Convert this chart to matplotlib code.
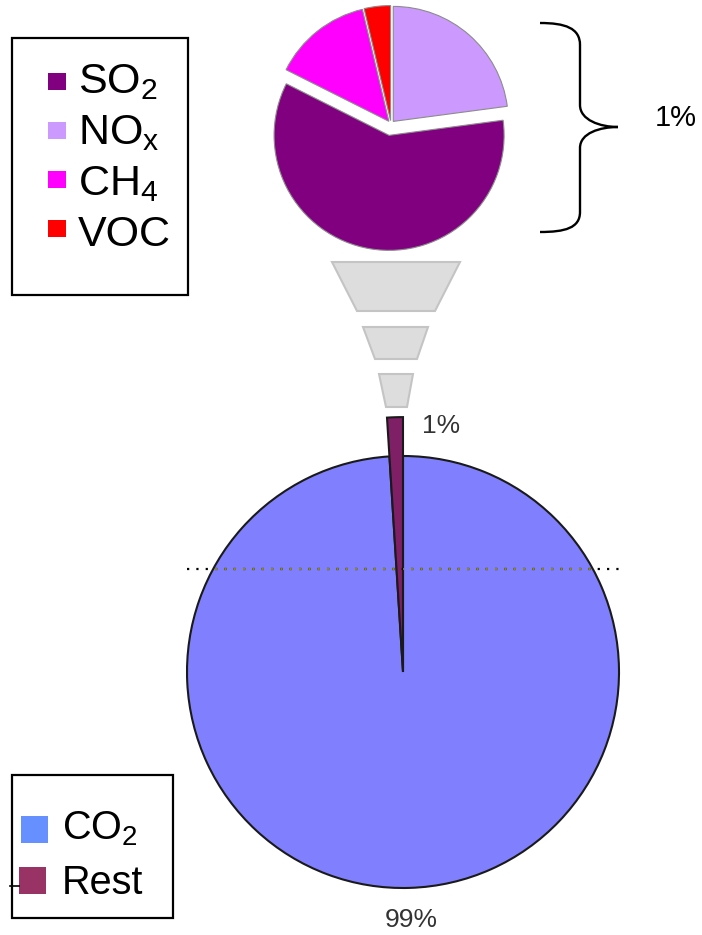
import matplotlib
matplotlib.use("Agg")
import matplotlib.pyplot as plt
from matplotlib.patches import Rectangle, Polygon, PathPatch
from matplotlib.path import Path

plt.rcParams['font.family'] = ['Liberation Sans', 'DejaVu Sans']
plt.rcParams['mathtext.fontset'] = 'custom'
plt.rcParams['mathtext.rm'] = 'Liberation Sans'
plt.rcParams['mathtext.it'] = 'Liberation Sans:italic'
plt.rcParams['mathtext.bf'] = 'Liberation Sans:bold'

# Breakdown of the minor emissions (shares within the remaining part)
minor_labels = ['SO$_2$', 'NO$_\\mathregular{x}$', 'CH$_4$', 'VOC']
minor_values = [59.5, 22.9, 13.9, 3.7]
minor_colors = ['#800080', '#CC99FF', '#FF00FF', '#FF0000']
minor_explode = [0.10, 0.03, 0.03, 0.03]
# wedges run clockwise from 12 o'clock in this order
minor_draw_order = [1, 0, 2, 3]

# Overall emissions
main_labels = ['CO$_2$', 'Rest']
main_values = [99, 1]
main_colors = ['#8080FF', '#7F1F66']
main_legend_colors = ['#6690FF', '#993366']

W, H = 702, 935
fig = plt.figure(figsize=(W / 100, H / 100), dpi=100)
ax = fig.add_axes([0, 0, 1, 1])


def Y(py):
    """Convert a top-down pixel row to the axis' bottom-up coordinate."""
    return H - py


# ---- small pie: composition of the rest ----
r_small = 115
c_small = (391, Y(124))
vals = [minor_values[i] for i in minor_draw_order]
cols = [minor_colors[i] for i in minor_draw_order]
expl = [minor_explode[i] * r_small for i in minor_draw_order]
ax.pie(vals, colors=cols, explode=expl, startangle=90, counterclock=False,
       center=c_small, radius=r_small,
       wedgeprops=dict(edgecolor='#8c8c8c', linewidth=0.8))

# ---- large pie: CO2 vs rest ----
r_big = 216
c_big = (403, Y(672))
big_order = [1, 0]
big_wedges, _ = ax.pie([main_values[i] for i in big_order],
                       colors=[main_colors[i] for i in big_order],
                       startangle=90, counterclock=True,
                       center=c_big, radius=r_big,
                       wedgeprops=dict(edgecolor='#1a1a1a', linewidth=1.5))
rest_wedge, co2_wedge = big_wedges
rest_wedge.set_radius(r_big * 1.18)
rest_wedge.set_zorder(3)
co2_wedge.set_zorder(2)

ax.set_xlim(0, W)
ax.set_ylim(0, H)
ax.set_aspect('equal')
ax.axis('off')

# dotted guide line across the large pie
gx = [187, 622]
gy = [Y(569), Y(569)]
ax.plot(gx, gy, color='black', ls=(0, (1, 3.2)), lw=1.6, zorder=4)
inner, = ax.plot(gx, gy, color='#8B8B10', ls=(0, (1, 3.2)), lw=1.6, zorder=5)
inner.set_clip_path(co2_wedge)

# ---- funnel between the pies ----
funnel = [
    [(332, 262), (460, 262), (435, 311), (357, 311)],
    [(363, 327), (428, 327), (417, 359), (375, 359)],
    [(379, 374), (413, 374), (407, 407), (386, 407)],
]
for quad in funnel:
    ax.add_patch(Polygon([(x, Y(y)) for x, y in quad], closed=True,
                         facecolor='#DDDDDD', edgecolor='#C4C4C4', lw=1.5,
                         zorder=1))

# ---- curly brace with its share ----
brace_pts = [(540, 23), (565, 23), (580, 28), (580, 45),
             (580, 105), (580, 120), (600, 127), (618, 127),
             (600, 127), (580, 133), (580, 148),
             (580, 212), (580, 228), (565, 232), (540, 232)]
brace_codes = [Path.MOVETO, Path.CURVE4, Path.CURVE4, Path.CURVE4,
               Path.LINETO, Path.CURVE4, Path.CURVE4, Path.CURVE4,
               Path.CURVE4, Path.CURVE4, Path.CURVE4,
               Path.LINETO, Path.CURVE4, Path.CURVE4, Path.CURVE4]
ax.add_patch(PathPatch(Path([(x, Y(y)) for x, y in brace_pts], brace_codes),
                       facecolor='none', edgecolor='black', lw=1.7))

rest_share = main_values[1]
co2_share = main_values[0]
ax.text(676, Y(118), f'{rest_share:.0f}%', fontsize=21, color='black',
        ha='center', va='center')
ax.text(441, Y(426), f'{rest_share:.0f}%', fontsize=19, color='#333333',
        ha='center', va='center')
ax.text(411, Y(920), f'{co2_share:.0f}%', fontsize=19, color='#333333',
        ha='center', va='center')

# ---- legend for the small pie ----
ax.add_patch(Rectangle((12, Y(295)), 176, 257, facecolor='white',
                       edgecolor='black', lw=1.6, zorder=6))
for i, (lab, col) in enumerate(zip(minor_labels, minor_colors)):
    cy = 81 + i * 49
    ax.add_patch(Rectangle((48, Y(cy + 8.5)), 18, 17, facecolor=col,
                           edgecolor='none', zorder=7))
    ax.text(78, Y(93 + i * 51), lab, fontsize=31, color='black',
            ha='left', va='baseline', zorder=7)

# ---- legend for the large pie ----
ax.add_patch(Rectangle((12, Y(918)), 161, 143, facecolor='white',
                       edgecolor='black', lw=1.6, zorder=6))
for i, (lab, col) in enumerate(zip(main_labels, main_legend_colors)):
    cy = 829.5 + i * 51
    ax.add_patch(Rectangle((21 - 2 * i, Y(cy + 13.5)), 27, 27, facecolor=col,
                           edgecolor='none', zorder=7))
    ax.text(62, Y(839 + i * 55), lab, fontsize=28.5, color='black',
            ha='left', va='baseline', zorder=7)
ax.plot([10, 19], [Y(886), Y(886)], color='black', lw=1.2, zorder=8)

fig.savefig('out.png', dpi=100)
